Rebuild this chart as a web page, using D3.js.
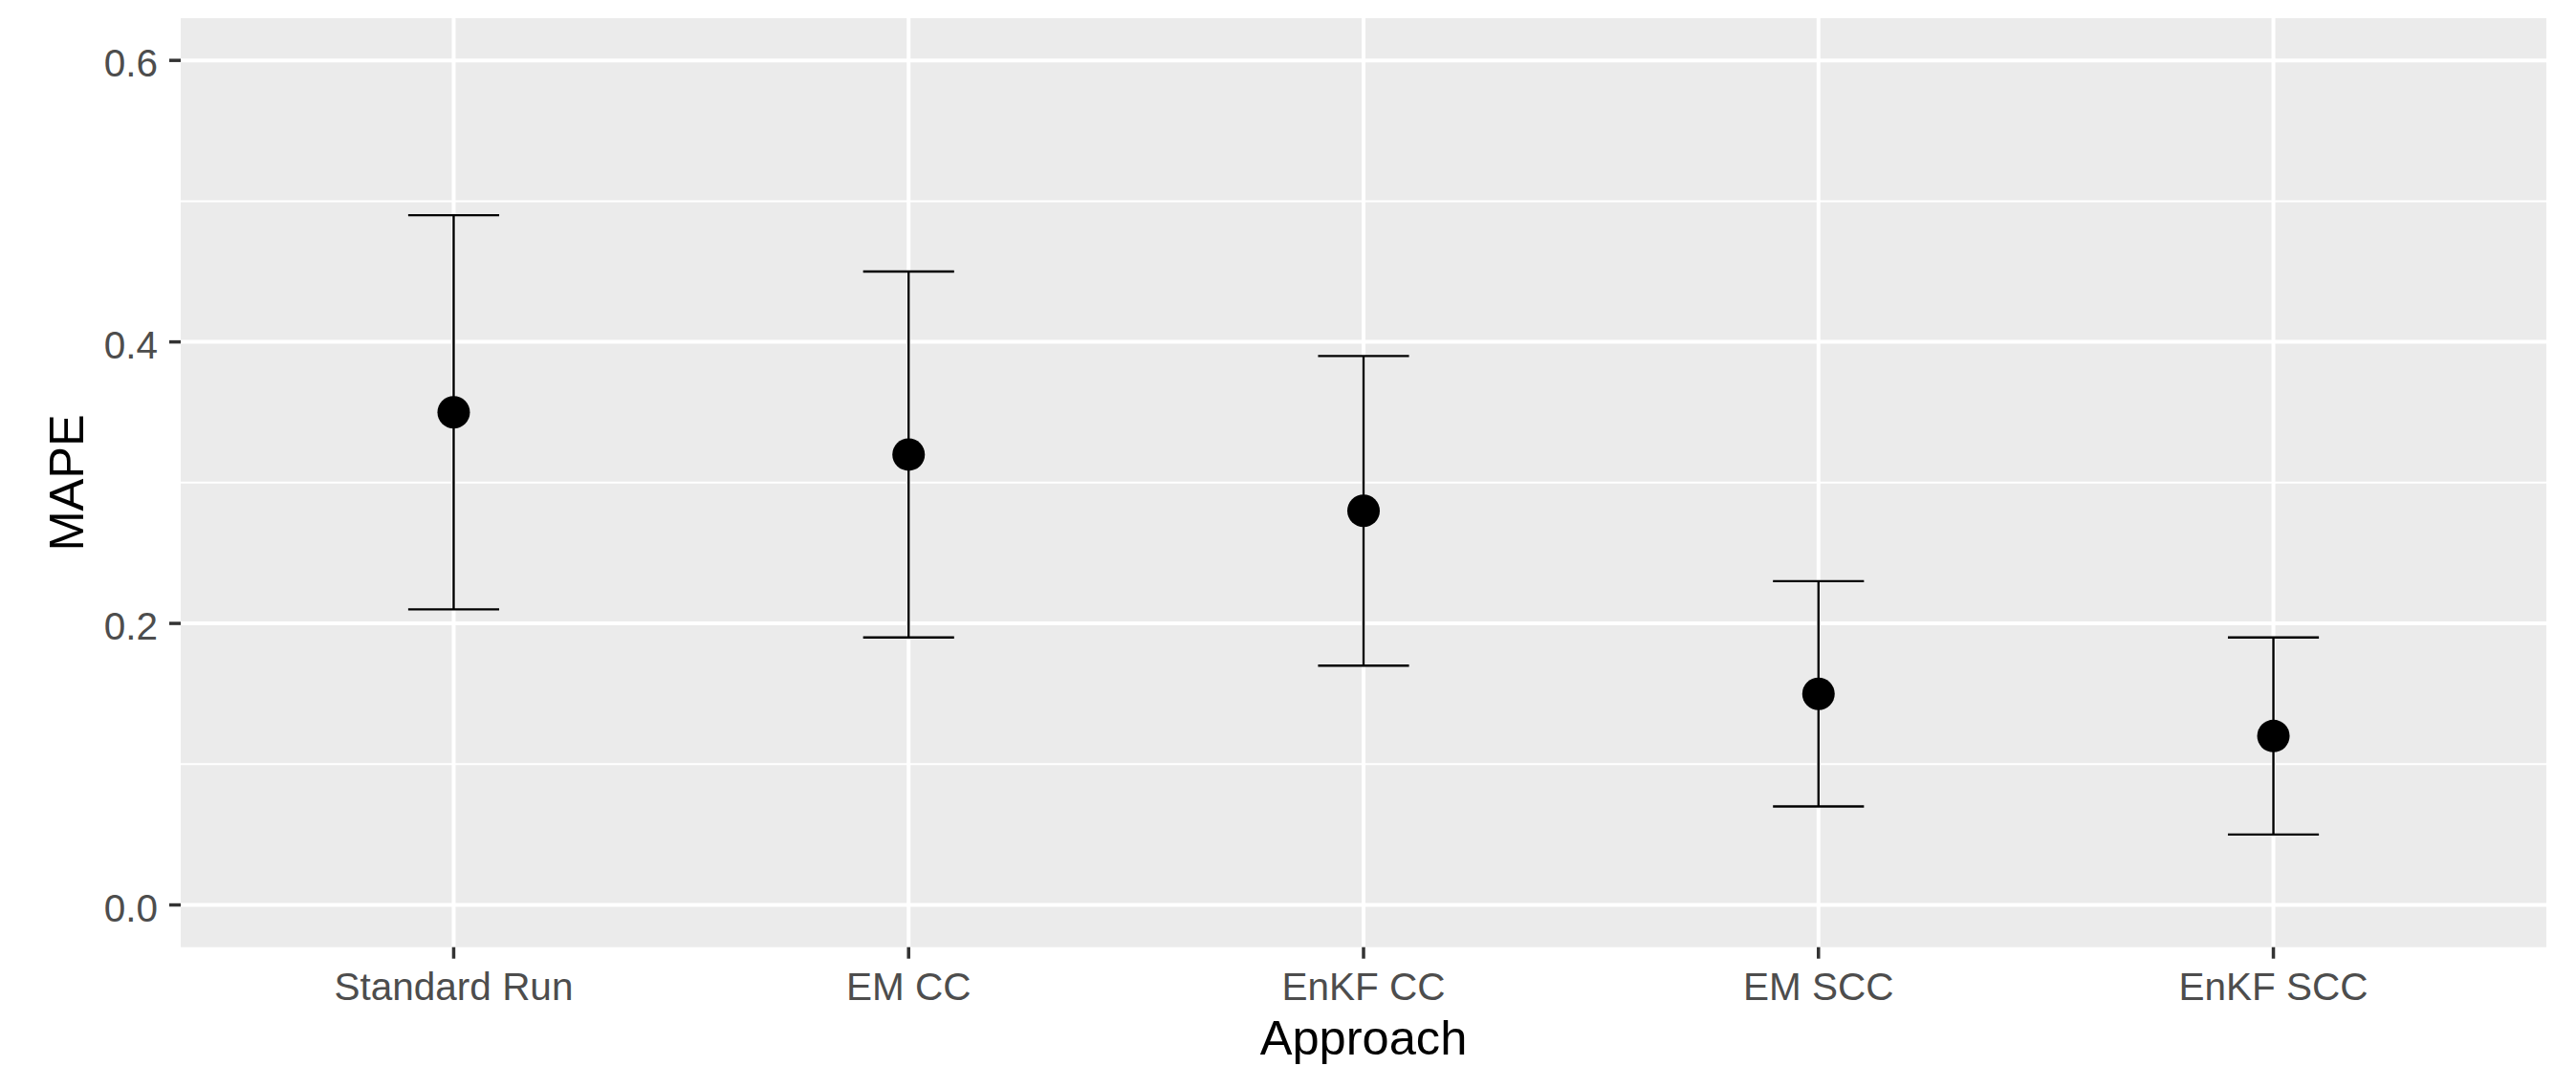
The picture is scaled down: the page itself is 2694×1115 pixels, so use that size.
<!DOCTYPE html>
<html lang="en">
  <head>
    <meta charset="UTF-8" />
    <title>MAPE by Approach</title>
    <script src="https://d3js.org/d3.v7.min.js"></script>
    <style>
      body {
        margin: 0;
        background: #fff;
      }
      svg {
        display: block;
        font-family: "Liberation Sans", Arial, sans-serif;
      }
      .tick-label {
        fill: #4d4d4d;
        font-size: 40.5px;
      }
      .axis-title {
        fill: #000;
        font-size: 50.6px;
      }
    </style>
  </head>
  <body>
    <svg width="2694" height="1115"></svg>
    <script>
      // values
      const approaches = ["Standard Run", "EM CC", "EnKF CC", "EM SCC", "EnKF SCC"];
      const mape = [0.35, 0.32, 0.28, 0.15, 0.12];
      const lower = [0.21, 0.19, 0.17, 0.07, 0.05];
      const upper = [0.49, 0.45, 0.39, 0.23, 0.19];
      const yTicks = [0.0, 0.2, 0.4, 0.6];
      const yMinor = [0.1, 0.3, 0.5];

      const data = approaches.map((a, i) => ({
        approach: a,
        mape: mape[i],
        lo: lower[i],
        hi: upper[i],
      }));

      const panel = { left: 189, right: 2663, top: 19, bottom: 990.7 };
      const svg = d3.select("svg");

      const x = d3
        .scalePoint()
        .domain(approaches)
        .range([panel.left, panel.right])
        .padding(0.6);

      const y = d3
        .scaleLinear()
        .domain([-0.03, 0.63])
        .range([panel.bottom, panel.top]);

      // panel background
      svg
        .append("rect")
        .attr("x", panel.left)
        .attr("y", panel.top)
        .attr("width", panel.right - panel.left)
        .attr("height", panel.bottom - panel.top)
        .attr("fill", "#ebebeb");

      // minor grid
      svg
        .selectAll(".minor")
        .data(yMinor)
        .enter()
        .append("line")
        .attr("x1", panel.left)
        .attr("x2", panel.right)
        .attr("y1", (d) => y(d))
        .attr("y2", (d) => y(d))
        .attr("stroke", "#fff")
        .attr("stroke-width", 2);

      // major grid
      svg
        .selectAll(".major-y")
        .data(yTicks)
        .enter()
        .append("line")
        .attr("x1", panel.left)
        .attr("x2", panel.right)
        .attr("y1", (d) => y(d))
        .attr("y2", (d) => y(d))
        .attr("stroke", "#fff")
        .attr("stroke-width", 4);

      svg
        .selectAll(".major-x")
        .data(approaches)
        .enter()
        .append("line")
        .attr("x1", (d) => x(d))
        .attr("x2", (d) => x(d))
        .attr("y1", panel.top)
        .attr("y2", panel.bottom)
        .attr("stroke", "#fff")
        .attr("stroke-width", 4);

      // error bars
      const capHalf = x.step() * 0.1;
      const bars = svg.append("g").attr("stroke", "#000").attr("stroke-width", 2.4);

      bars
        .selectAll(".stem")
        .data(data)
        .enter()
        .append("line")
        .attr("x1", (d) => x(d.approach))
        .attr("x2", (d) => x(d.approach))
        .attr("y1", (d) => y(d.lo))
        .attr("y2", (d) => y(d.hi));

      bars
        .selectAll(".cap-hi")
        .data(data)
        .enter()
        .append("line")
        .attr("x1", (d) => x(d.approach) - capHalf)
        .attr("x2", (d) => x(d.approach) + capHalf)
        .attr("y1", (d) => y(d.hi))
        .attr("y2", (d) => y(d.hi));

      bars
        .selectAll(".cap-lo")
        .data(data)
        .enter()
        .append("line")
        .attr("x1", (d) => x(d.approach) - capHalf)
        .attr("x2", (d) => x(d.approach) + capHalf)
        .attr("y1", (d) => y(d.lo))
        .attr("y2", (d) => y(d.lo));

      // points
      svg
        .selectAll(".dot")
        .data(data)
        .enter()
        .append("circle")
        .attr("cx", (d) => x(d.approach))
        .attr("cy", (d) => y(d.mape))
        .attr("r", 17)
        .attr("fill", "#000");

      // y axis ticks + labels
      svg
        .selectAll(".ytick")
        .data(yTicks)
        .enter()
        .append("line")
        .attr("x1", panel.left - 12)
        .attr("x2", panel.left)
        .attr("y1", (d) => y(d))
        .attr("y2", (d) => y(d))
        .attr("stroke", "#333")
        .attr("stroke-width", 3.5);

      svg
        .selectAll(".ylabel")
        .data(yTicks)
        .enter()
        .append("text")
        .attr("class", "tick-label")
        .attr("x", panel.left - 24)
        .attr("y", (d) => y(d) + 17)
        .attr("text-anchor", "end")
        .text((d) => d3.format(".1f")(d));

      // x axis ticks + labels
      svg
        .selectAll(".xtick")
        .data(approaches)
        .enter()
        .append("line")
        .attr("x1", (d) => x(d))
        .attr("x2", (d) => x(d))
        .attr("y1", panel.bottom)
        .attr("y2", panel.bottom + 12)
        .attr("stroke", "#333")
        .attr("stroke-width", 3.5);

      svg
        .selectAll(".xlabel")
        .data(approaches)
        .enter()
        .append("text")
        .attr("class", "tick-label")
        .attr("x", (d) => x(d))
        .attr("y", 1046)
        .attr("text-anchor", "middle")
        .text((d) => d);

      // axis titles
      svg
        .append("text")
        .attr("class", "axis-title")
        .attr("x", (panel.left + panel.right) / 2)
        .attr("y", 1103)
        .attr("text-anchor", "middle")
        .text("Approach");

      svg
        .append("text")
        .attr("class", "axis-title")
        .attr("transform", "rotate(-90)")
        .attr("x", -(panel.top + panel.bottom) / 2)
        .attr("y", 87)
        .attr("text-anchor", "middle")
        .text("MAPE");
    </script>
  </body>
</html>
